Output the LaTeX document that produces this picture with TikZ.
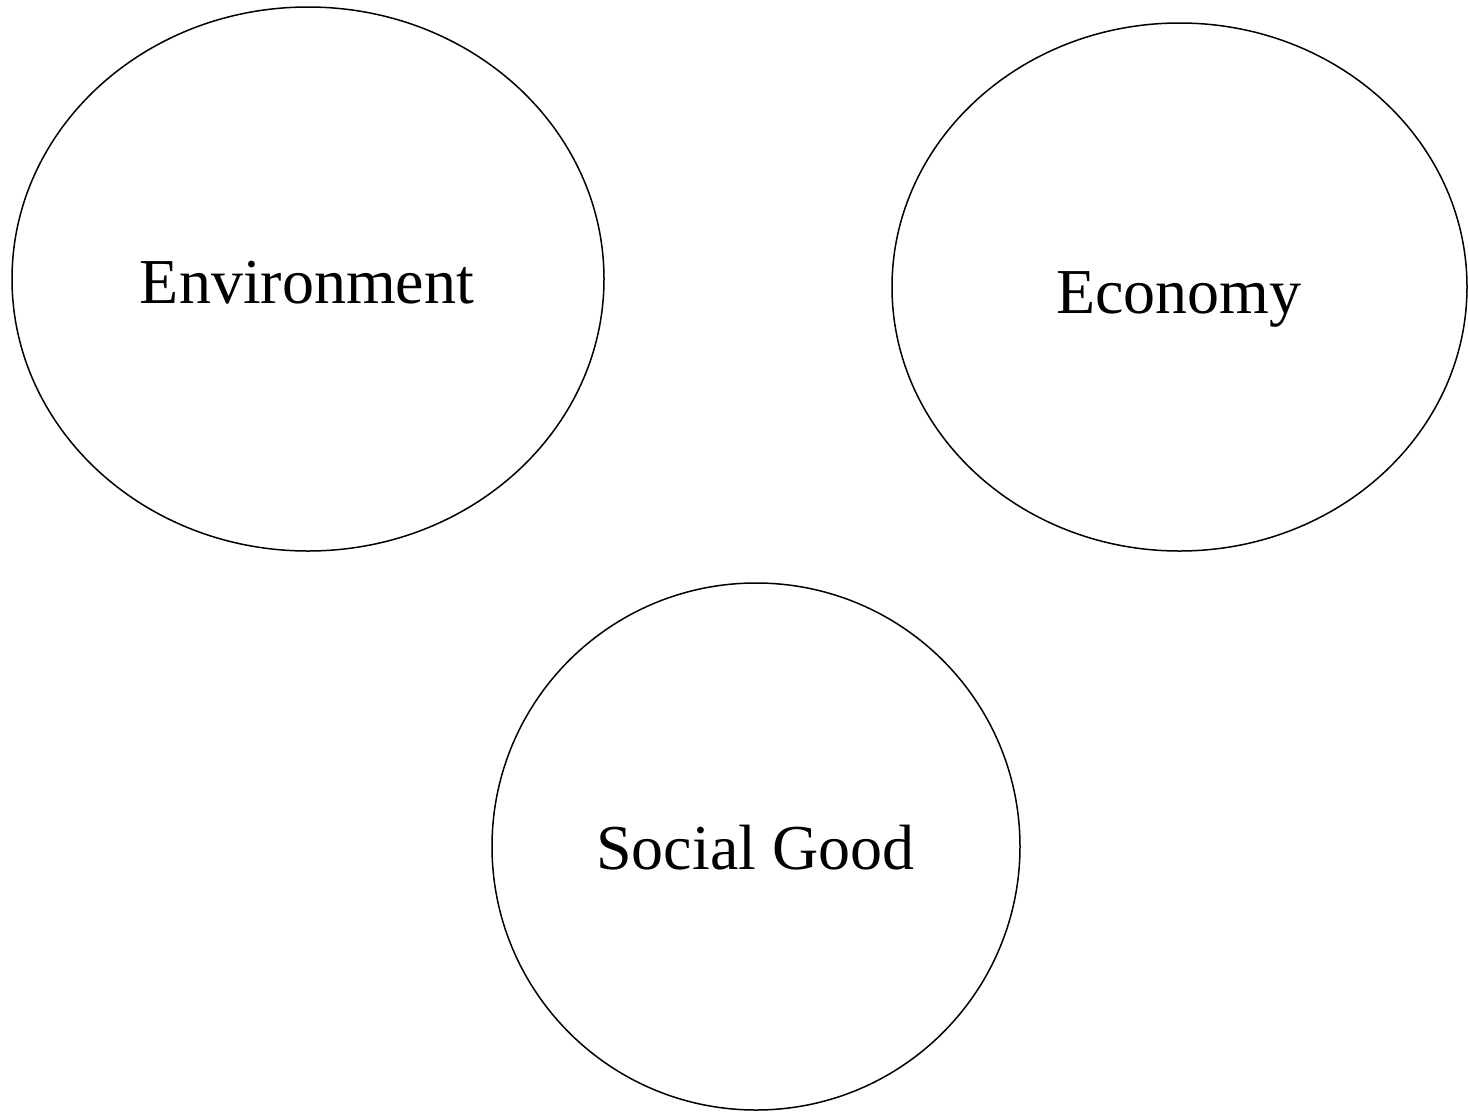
\documentclass[tikz,border=0pt]{standalone}
\usepackage{fontspec}
\setmainfont{Liberation Serif}
\usetikzlibrary{shapes.geometric}
\begin{document}
\begin{tikzpicture}[x=1pt,y=-1pt,
  circ/.style={draw, ellipse, line width=1.5pt, inner sep=0pt},
  lbl/.style={anchor=base, inner sep=0pt, font=\fontsize{64}{76}\selectfont}]
\useasboundingbox (0,0) rectangle (1468,1112);
% the three pillars
\node[circ, minimum width=592pt, minimum height=544pt] (env) at (308,279) {};
\node[circ, minimum width=575pt, minimum height=528pt] (eco) at (1179.5,287) {};
\node[circ, minimum width=528pt, minimum height=527pt] (soc) at (756,846.5) {};
% labels
\node[lbl] (envt) at (307,303) {Environment};
\node[lbl] (ecot) at (1179,313) {Economy};
\node[lbl] (soct) at (755.5,869) {Social Good};
\end{tikzpicture}
\end{document}
